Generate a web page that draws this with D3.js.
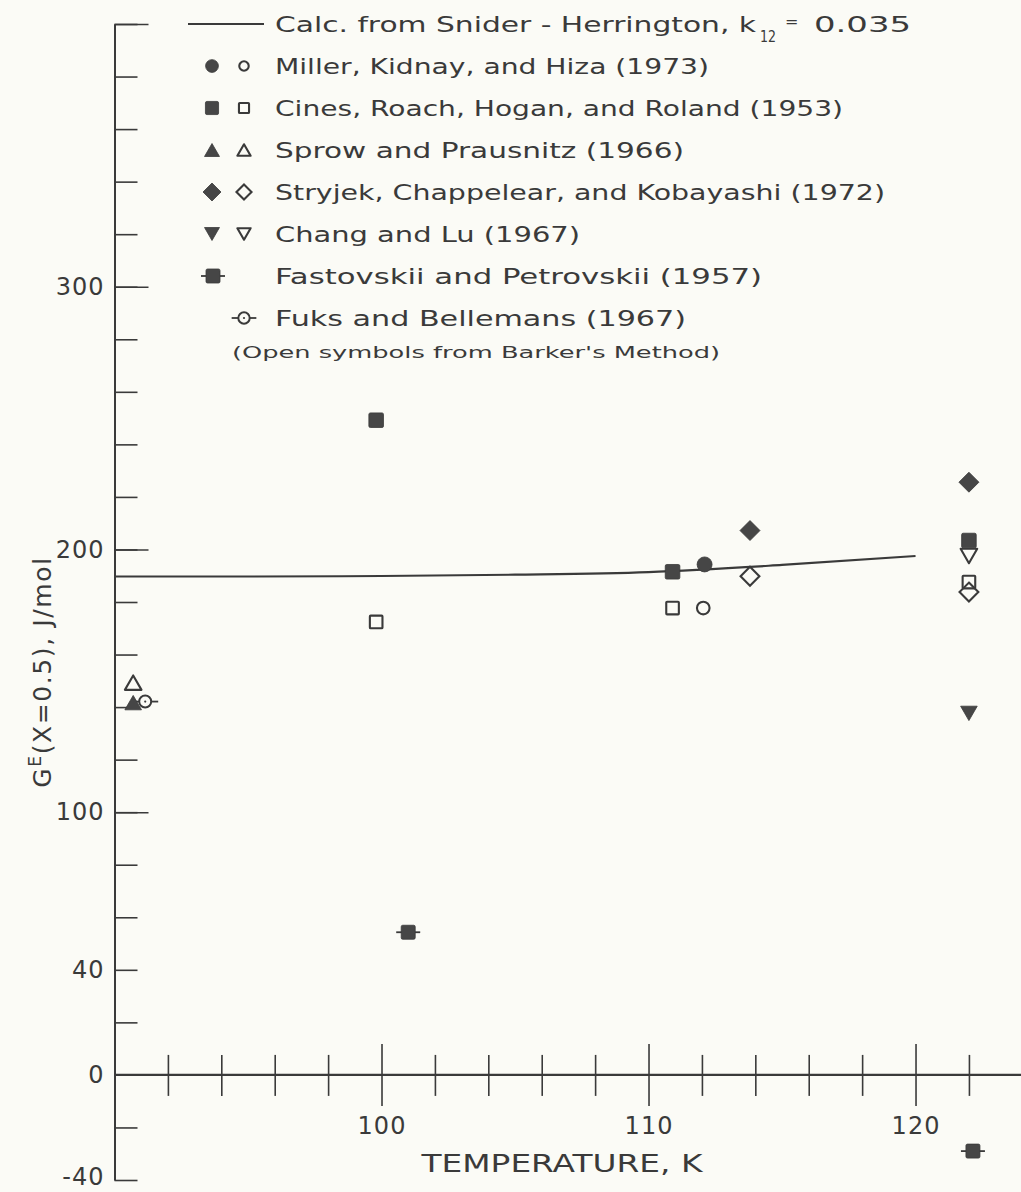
<!DOCTYPE html>
<html>
<head>
<meta charset="utf-8">
<script src="https://cdn.jsdelivr.net/npm/d3@7"></script>
<style>
  html, body { margin: 0; padding: 0; background: #fbfbf6; }
  svg { display: block; }
  text { font-family: "DejaVu Sans", sans-serif; fill: #3a3a3a; }
</style>
</head>
<body>
<svg id="chart" width="1021" height="1192"></svg>
<script>
// ---- Data ----
const calcT = [90, 95, 100, 105, 110, 115, 120];
const calcG = [189.7, 189.7, 189.9, 190.4, 191.4, 194.1, 197.5];

const millerFilledT = [112.1];            const millerFilledG = [194.3];
const millerOpenT   = [112.05];           const millerOpenG   = [177.7];
const cinesFilledT  = [99.8, 110.9, 122.0]; const cinesFilledG = [249.2, 191.5, 203.4];
const cinesOpenT    = [99.8, 110.9, 122.0]; const cinesOpenG   = [172.4, 177.7, 187.6];
const sprowFilledT  = [90.7];             const sprowFilledG  = [141.7];
const sprowOpenT    = [90.7];             const sprowOpenG    = [149.3];
const stryjekFilledT = [113.8, 122.0];    const stryjekFilledG = [207.2, 225.6];
const stryjekOpenT   = [113.8, 122.0];    const stryjekOpenG   = [189.8, 183.8];
const changFilledT  = [122.0];            const changFilledG  = [137.6];
const changOpenT    = [122.0];            const changOpenG    = [197.5];
const fastT = [101.0, 122.15];            const fastG = [54.3, -29.0];
const fuksT = [91.15];                    const fuksG = [142.1];

const yMinorTicks = d3.range(-40, 401, 20).filter(v => v !== 0);
const yMajorTicks = [100, 200, 300, 400];
const yLabelTicks = [300, 200, 100, 40, 0, -40];
const xMinorTicks = d3.range(92, 124, 2).filter(v => v % 10 !== 0);
const xMajorTicks = [100, 110, 120];
const xLabelTicks = [100, 110, 120];

const legendRows = [
  "Miller, Kidnay, and Hiza (1973)",
  "Cines, Roach, Hogan, and Roland (1953)",
  "Sprow and Prausnitz (1966)",
  "Stryjek, Chappelear, and Kobayashi (1972)",
  "Chang and Lu (1967)",
  "Fastovskii and Petrovskii (1957)",
  "Fuks and Bellemans (1967)"
];
const legendShapes = ["circle", "square", "triangle", "diamond", "triangleDown", "fast", "fuks"];
const legendWidths = [434, 568, 409, 610, 305, 487, 411];

// ---- Setup ----
const ink = "#3a3a3a";
const fillInk = "#464646";
const svg = d3.select("#chart");
svg.append("rect").attr("width", 1021).attr("height", 1192).attr("fill", "#fbfbf6");

const x = d3.scaleLinear().domain([90, 123.95]).range([114.5, 1021]);
const y = d3.scaleLinear().domain([-40, 400]).range([1180, 24]);

// ---- Y axis ----
function styleAxis(g) {
  g.selectAll("path.domain").attr("stroke", ink).attr("stroke-width", 2);
  g.selectAll(".tick line").attr("stroke", ink).attr("stroke-width", 1.6);
}
svg.append("g").attr("transform", `translate(${x(90)},0)`)
  .call(d3.axisRight(y).tickValues(yMinorTicks).tickSize(23).tickSizeOuter(0).tickFormat(""))
  .call(styleAxis);
svg.append("g").attr("transform", `translate(${x(90)},0)`)
  .call(d3.axisRight(y).tickValues(yMajorTicks).tickSize(34).tickSizeOuter(0).tickFormat(""))
  .call(styleAxis).call(g => g.select("path.domain").remove());
const yl = svg.append("g").attr("transform", `translate(${x(90)},0)`)
  .call(d3.axisLeft(y).tickValues(yLabelTicks).tickSize(0).tickPadding(10).tickFormat(d => d < 0 ? "-" + Math.abs(d) : d));
yl.select("path.domain").remove();
yl.selectAll("text").attr("font-size", 24).attr("fill", ink).attr("font-family", "DejaVu Sans")
  .attr("letter-spacing", 1);
yl.selectAll(".tick").filter(d => d === -40).select("text").attr("dy", "0.2em");

// ---- X axis at G = 0 ----
const y0 = y(0);
svg.append("line").attr("x1", x(90)).attr("x2", 1021).attr("y1", y0).attr("y2", y0)
  .attr("stroke", ink).attr("stroke-width", 2.2);
[[xMinorTicks, 21, 20], [xMajorTicks, 31, 31]].forEach(([vals, down, up]) => {
  svg.append("g").attr("transform", `translate(0,${y0})`)
    .call(d3.axisBottom(x).tickValues(vals).tickSize(down).tickSizeOuter(0).tickFormat(""))
    .call(styleAxis).call(g => g.select("path.domain").remove());
  svg.append("g").attr("transform", `translate(0,${y0})`)
    .call(d3.axisTop(x).tickValues(vals).tickSize(up).tickSizeOuter(0).tickFormat(""))
    .call(styleAxis).call(g => g.select("path.domain").remove());
});
const xl = svg.append("g").attr("transform", `translate(0,${y0})`)
  .call(d3.axisBottom(x).tickValues(xLabelTicks).tickSize(0).tickPadding(42).tickFormat(d => d));
xl.select("path.domain").remove();
xl.selectAll("text").attr("font-size", 24).attr("fill", ink).attr("font-family", "DejaVu Sans")
  .attr("letter-spacing", 1);

// Axis titles
svg.append("text").attr("x", 562).attr("y", 1172).attr("text-anchor", "middle")
  .attr("font-size", 24).attr("textLength", 281).attr("lengthAdjust", "spacingAndGlyphs")
  .text("TEMPERATURE, K");

const yt = svg.append("text").attr("transform", "translate(51,672) rotate(-90)")
  .attr("text-anchor", "middle").attr("font-size", 25).attr("letter-spacing", 1.6);
yt.append("tspan").text("G");
yt.append("tspan").attr("font-size", 17).attr("dy", -10).text("E");
yt.append("tspan").attr("dy", 10).text("(X=0.5), J/mol");

// ---- Calculated line ----
const calcData = calcT.map((t, i) => ({ t, g: calcG[i] }));
svg.append("path").datum(calcData)
  .attr("d", d3.line().x(d => x(d.t)).y(d => y(d.g)).curve(d3.curveMonotoneX))
  .attr("fill", "none").attr("stroke", ink).attr("stroke-width", 2.2);

// ---- Symbol drawing ----
function drawSymbol(g, shape, filled, s) {
  s = s || 1;
  const fill = filled ? fillInk : "none";
  const stroke = ink;
  const sw = filled ? 0.8 : 2.1;
  switch (shape) {
    case "circle":
      g.append("circle").attr("r", (filled ? 7.5 : 6.3) * s).attr("fill", fill)
        .attr("stroke", stroke).attr("stroke-width", sw);
      break;
    case "square": {
      const h = (filled ? 7.3 : 6.3) * s;
      g.append("rect").attr("x", -h).attr("y", -h).attr("width", 2 * h).attr("height", 2 * h)
        .attr("rx", filled ? 1.5 : 0.8).attr("fill", fill).attr("stroke", stroke).attr("stroke-width", sw);
      break;
    }
    case "triangle": {
      const w = 8.3 * s, h = 7.2 * s;
      g.append("path").attr("d", `M0,${-h}L${w},${h}L${-w},${h}Z`)
        .attr("fill", fill).attr("stroke", stroke).attr("stroke-width", sw).attr("stroke-linejoin", "round");
      break;
    }
    case "triangleDown": {
      const w = 8.3 * s, h = 7.2 * s;
      g.append("path").attr("d", `M0,${h}L${w},${-h}L${-w},${-h}Z`)
        .attr("fill", fill).attr("stroke", stroke).attr("stroke-width", sw).attr("stroke-linejoin", "round");
      break;
    }
    case "diamond": {
      const r = (filled ? 10 : 9.4) * s;
      g.append("path").attr("d", `M0,${-r}L${r},0L0,${r}L${-r},0Z`)
        .attr("fill", fill).attr("stroke", stroke).attr("stroke-width", sw).attr("stroke-linejoin", "miter");
      break;
    }
    case "fast": {
      g.append("line").attr("x1", -12 * s).attr("x2", 12 * s).attr("stroke", stroke).attr("stroke-width", 1.8);
      const h = 7 * s;
      g.append("rect").attr("x", -h).attr("y", -h).attr("width", 2 * h).attr("height", 2 * h)
        .attr("rx", 1.5).attr("fill", fillInk).attr("stroke", stroke).attr("stroke-width", 0.8);
      break;
    }
    case "fuks": {
      const r = 6 * s;
      g.append("line").attr("x1", -13 * s).attr("x2", -r).attr("stroke", stroke).attr("stroke-width", 1.8);
      g.append("line").attr("x1", r).attr("x2", 13 * s).attr("stroke", stroke).attr("stroke-width", 1.8);
      g.append("circle").attr("r", r).attr("fill", "none").attr("stroke", stroke).attr("stroke-width", 2);
      g.append("circle").attr("r", 1.1).attr("fill", stroke);
      break;
    }
  }
}

function plotSeries(ts, gs, shape, filled) {
  ts.forEach((t, i) => {
    const g = svg.append("g").attr("transform", `translate(${x(t)},${y(gs[i])})`);
    drawSymbol(g, shape, filled);
  });
}

plotSeries(cinesOpenT, cinesOpenG, "square", false);
plotSeries(millerOpenT, millerOpenG, "circle", false);
plotSeries(sprowOpenT, sprowOpenG, "triangle", false);
plotSeries(stryjekOpenT, stryjekOpenG, "diamond", false);
plotSeries(cinesFilledT, cinesFilledG, "square", true);
plotSeries(changOpenT, changOpenG, "triangleDown", false);
plotSeries(millerFilledT, millerFilledG, "circle", true);
plotSeries(fuksT, fuksG, "fuks", false);
plotSeries(sprowFilledT, sprowFilledG, "triangle", true);
plotSeries(stryjekFilledT, stryjekFilledG, "diamond", true);
plotSeries(changFilledT, changFilledG, "triangleDown", true);
plotSeries(fastT, fastG, "fast", true);

// ---- Legend ----
const lgTextX = 275;
const rowY = i => 24 + 42 * i;

svg.append("line").attr("x1", 188).attr("x2", 264).attr("y1", rowY(0)).attr("y2", rowY(0))
  .attr("stroke", ink).attr("stroke-width", 2);
svg.append("text").attr("x", lgTextX).attr("y", rowY(0) + 8).attr("font-size", 22)
  .attr("textLength", 481).attr("lengthAdjust", "spacingAndGlyphs")
  .text("Calc. from Snider - Herrington, k");
svg.append("text").attr("x", 760).attr("y", rowY(0) + 18).attr("font-size", 16)
  .attr("textLength", 16).attr("lengthAdjust", "spacingAndGlyphs").text("12");
svg.append("text").attr("x", 785).attr("y", rowY(0) + 3).attr("font-size", 16).text("=");
svg.append("text").attr("x", 814).attr("y", rowY(0) + 8).attr("font-size", 22)
  .attr("textLength", 97).attr("lengthAdjust", "spacingAndGlyphs").text("0.035");

legendRows.forEach((label, i) => {
  const yy = rowY(i + 1);
  const shape = legendShapes[i];
  if (shape === "fast") {
    drawSymbol(svg.append("g").attr("transform", `translate(213,${yy})`), "fast", true, 1);
  } else if (shape === "fuks") {
    drawSymbol(svg.append("g").attr("transform", `translate(244,${yy})`), "fuks", false, 0.95);
  } else {
    const sc = shape === "circle" ? 0.85 : 0.9;
    drawSymbol(svg.append("g").attr("transform", `translate(212,${yy})`), shape, true, sc);
    drawSymbol(svg.append("g").attr("transform", `translate(244,${yy})`), shape, false, shape === "circle" ? 0.75 : 0.8);
  }
  svg.append("text").attr("x", lgTextX).attr("y", yy + 8).attr("font-size", 22)
    .attr("textLength", legendWidths[i]).attr("lengthAdjust", "spacingAndGlyphs").text(label);
});

svg.append("text").attr("x", 232).attr("y", rowY(8) - 2).attr("font-size", 16)
  .attr("textLength", 488).attr("lengthAdjust", "spacingAndGlyphs")
  .text("(Open symbols from Barker's Method)");
</script>
</body>
</html>
